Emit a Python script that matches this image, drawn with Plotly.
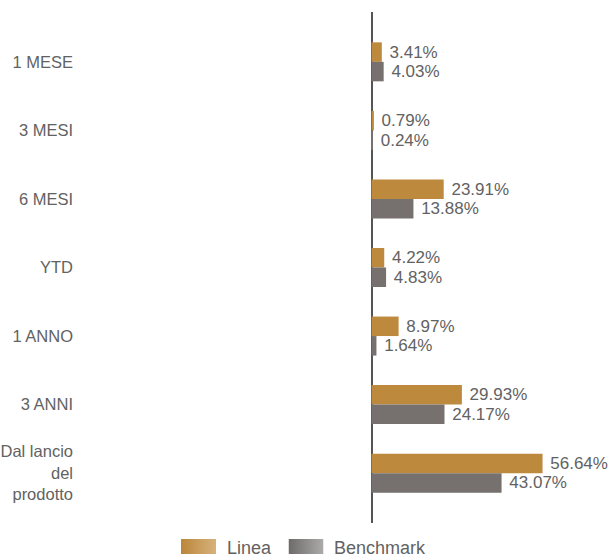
import base64
import plotly.graph_objects as go

categories = ["1 MESE", "3 MESI", "6 MESI", "YTD", "1 ANNO", "3 ANNI", "Dal lancio<br>del<br>prodotto"]
linea = [3.41, 0.79, 23.91, 4.22, 8.97, 29.93, 56.64]
benchmark = [4.03, 0.24, 13.88, 4.83, 1.64, 24.17, 43.07]
series_names = ["Linea", "Benchmark"]

GOLD = "#bd893d"
GREY = "#76716f"
TXT = "#626262"
FONT = "Arial, Liberation Sans, sans-serif"

W, H = 616, 559
L, R, T, B = 80, 10, 12, 36
plot_w = W - L - R
plot_h = H - T - B
zero_px = 371.5
px_per_unit = 3.02
xmin = -(zero_px - L) / px_per_unit
xmax = (W - R - zero_px) / px_per_unit


def fmt(v):
    return [" %.2f%%" % x for x in v]


fig = go.Figure()
for name, vals, col in [(series_names[0], linea, GOLD), (series_names[1], benchmark, GREY)]:
    fig.add_trace(go.Bar(
        y=categories, x=vals, orientation="h", name=name,
        marker=dict(color=col, line=dict(width=0)),
        text=fmt(vals), textposition="outside", cliponaxis=False,
        constraintext="none",
        textfont=dict(family=FONT, size=17, color=TXT),
        showlegend=False,
    ))

fig.update_layout(
    width=W, height=H,
    margin=dict(l=L, r=R, t=T, b=B, autoexpand=False),
    paper_bgcolor="white", plot_bgcolor="white",
    barmode="group", bargap=0.431, bargroupgap=0,
    font=dict(family=FONT, color=TXT),
    xaxis=dict(range=[xmin, xmax], showgrid=False, showticklabels=False,
               zeroline=True, zerolinecolor="#555555", zerolinewidth=2,
               showline=False, ticks=""),
    yaxis=dict(categoryorder="array", categoryarray=categories,
               range=[6.727, -0.727], showgrid=False, showline=False, ticks="",
               tickfont=dict(family=FONT, size=16.5, color=TXT),
               ticklabelstandoff=6),
)


def px2x(px):
    return (px - L) / plot_w


def py2y(py):
    return (H - B - py) / plot_h


def grad_svg(c1, c2):
    svg = ('<svg xmlns="http://www.w3.org/2000/svg" width="35" height="15">'
           '<defs><linearGradient id="g" x1="0" x2="1" y1="0" y2="0">'
           '<stop offset="0" stop-color="%s"/><stop offset="1" stop-color="%s"/>'
           '</linearGradient></defs><rect width="35" height="15" fill="url(#g)"/></svg>') % (c1, c2)
    return "data:image/svg+xml;base64," + base64.b64encode(svg.encode()).decode()


legend_items = [
    (series_names[0], "#bb863a", "#d6b27c", 181, 225),
    (series_names[1], "#6e6a6a", "#acaaaa", 288.5, 332),
]
for name, c1, c2, rx, tx in legend_items:
    fig.add_layout_image(dict(
        source=grad_svg(c1, c2), xref="paper", yref="paper",
        x=px2x(rx), y=py2y(539), sizex=35 / plot_w, sizey=15 / plot_h,
        xanchor="left", yanchor="top", sizing="stretch", layer="above"))
    fig.add_annotation(
        text=name, xref="paper", yref="paper", x=px2x(tx), y=py2y(548),
        xanchor="left", yanchor="middle", showarrow=False,
        font=dict(family=FONT, size=18, color=TXT))

fig.write_html("out.html")
